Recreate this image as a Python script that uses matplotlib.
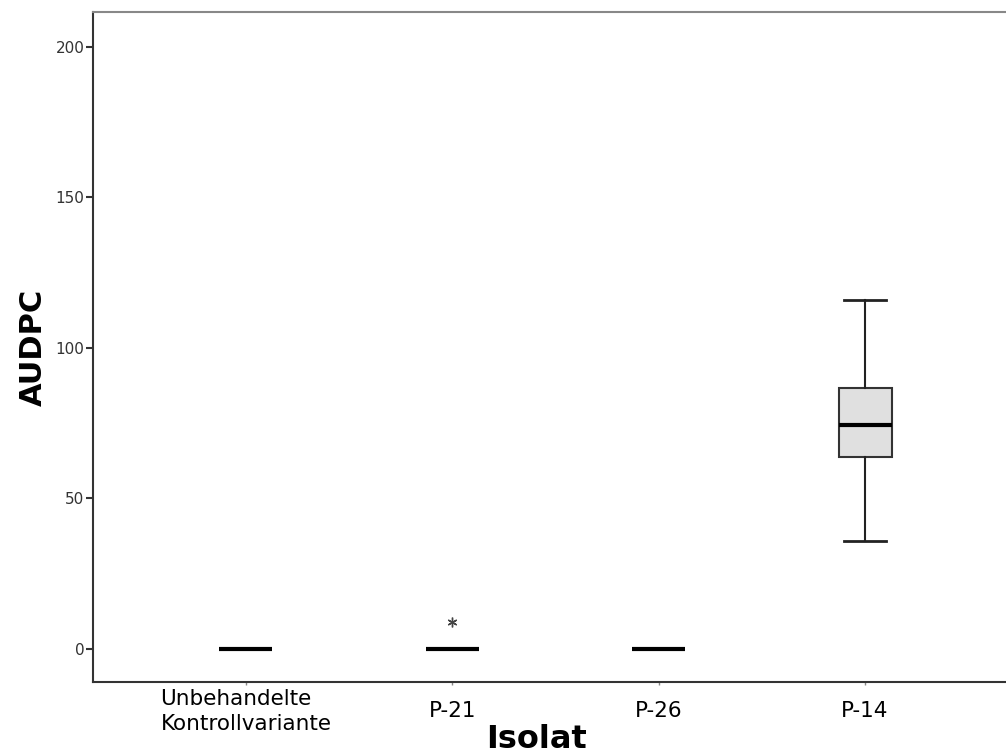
import matplotlib
matplotlib.use("Agg")
import matplotlib.pyplot as plt

# group labels and box statistics
groups = ['Unbehandelte\nKontrollvariante', 'P-21', 'P-26', 'P-14']
whislo = [0, 0, 0, 35.9]
q1 = [0, 0, 0, 63.7]
med = [0, 0, 0, 74.4]
q3 = [0, 0, 0, 86.7]
whishi = [0, 0, 0, 115.8]
fliers = [[], [9.0], [], []]

stats = []
for i in range(len(groups)):
    stats.append(dict(whislo=whislo[i], q1=q1[i], med=med[i], q3=q3[i],
                      whishi=whishi[i], fliers=fliers[i], label=groups[i]))

fig = plt.figure(figsize=(10.06, 7.56), dpi=100)
ax = fig.add_axes([0.0924, 0.0979, 0.9195, 0.886])

ax.bxp(stats, positions=[1, 2, 3, 4], widths=0.257, patch_artist=True,
       boxprops=dict(facecolor='#e0e0e0', edgecolor='#333333', linewidth=1.5),
       medianprops=dict(color='black', linewidth=3),
       whiskerprops=dict(color='#222222', linewidth=1.5),
       capprops=dict(color='#222222', linewidth=2),
       capwidths=0.2,
       flierprops=dict(marker=(6, 2, 0), markersize=7, markeredgecolor='#444444',
                       markeredgewidth=1.0))

ax.set_xlim(0.259, 4.741)
ax.set_ylim(-11, 211.5)
ax.set_yticks([0, 50, 100, 150, 200])
ax.tick_params(axis='y', labelsize=11, length=5, width=1.5, color='#333333',
               labelcolor='#333333', pad=1)
ax.tick_params(axis='x', labelsize=15.5, length=2, width=1, color='#888888', pad=19)
for lab in ax.get_xticklabels():
    lab.set_multialignment('left')
    lab.set_linespacing(1.3)
    lab.set_va('center')

for side in ['left', 'bottom']:
    ax.spines[side].set_color('#333333')
    ax.spines[side].set_linewidth(1.5)
ax.spines['top'].set_color('#888888')
ax.spines['top'].set_linewidth(1.5)
ax.spines['right'].set_visible(False)

ax.set_ylabel('AUDPC', fontsize=22, fontweight='bold', labelpad=6)
ax.set_xlabel('Isolat', fontsize=23, fontweight='bold')
ax.xaxis.set_label_coords(0.48, -0.063)

fig.savefig('out.png', dpi=100)
